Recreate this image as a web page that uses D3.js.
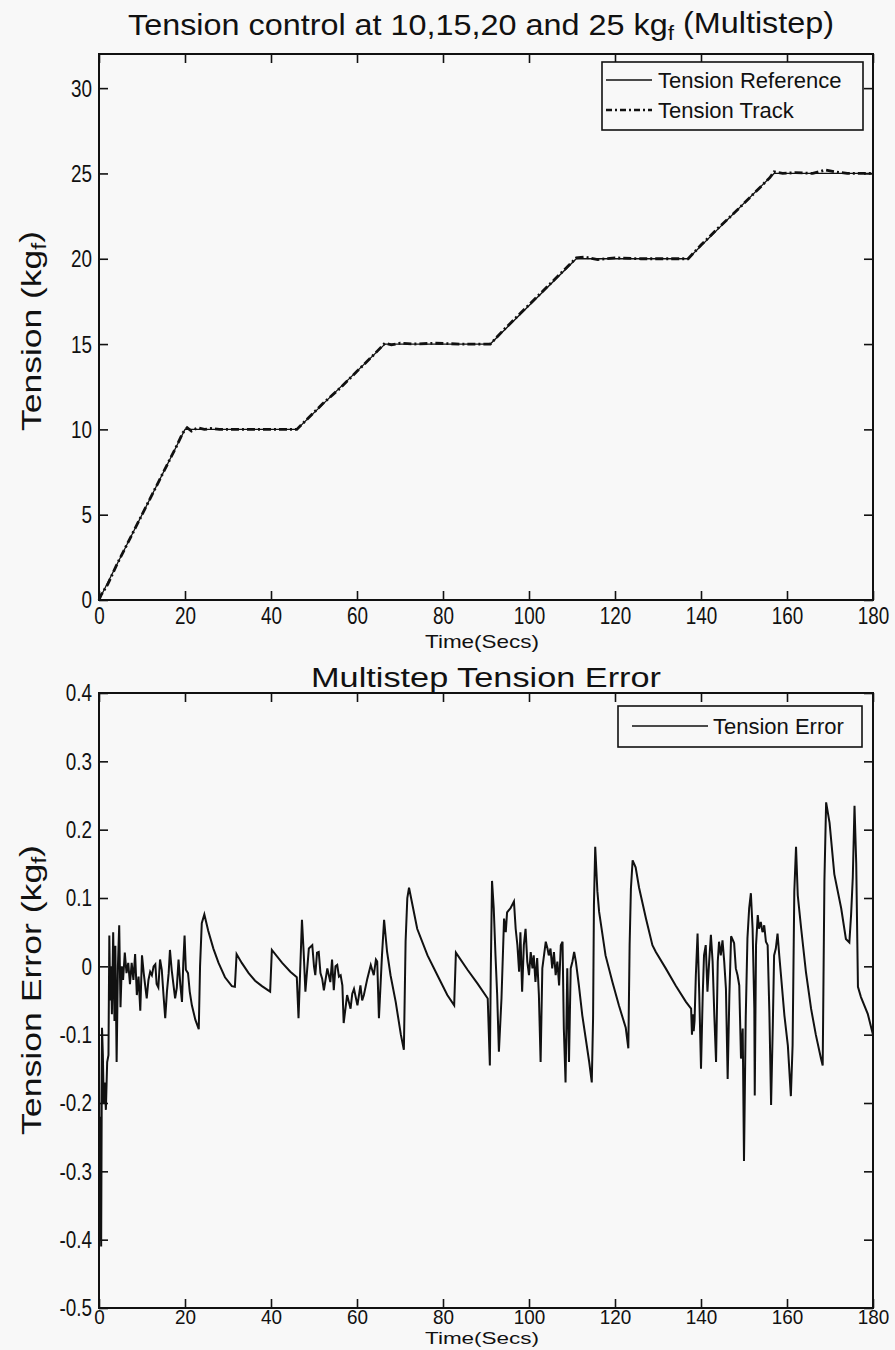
<!DOCTYPE html>
<html>
<head>
<meta charset="utf-8">
<script src="https://cdn.jsdelivr.net/npm/d3@7"></script>
<style>
  html, body { margin: 0; padding: 0; background: #f8f8f8; }
  svg { display: block; }
  .tick text { font-family: "Liberation Sans", Arial, sans-serif; font-size: 21px; fill: #111; }
  .tick line { stroke: #111; }
</style>
</head>
<body>
<div id="chart"></div>
<script>
// ---- top panel: tension reference and tracked tension ----
const refTime = [0, 20, 46, 66.5, 91, 111, 137, 157, 180]
const refTension = [0, 10, 10, 15, 15, 20, 20, 25, 25]

const trackTime = [0, 0.5, 2, 4, 6, 8, 10, 12, 14, 16, 18, 19.5, 20.5, 21.5, 23, 24.5, 26, 28, 32, 38, 44, 46,
  48, 52, 56, 60, 64, 66.5, 68, 70, 73, 78, 84, 90, 91,
  94, 98, 102, 106, 110, 111, 113, 116, 120, 126, 132, 137,
  140, 144, 148, 152, 156, 157, 159, 162, 166, 169, 171, 174, 178, 180]
const trackTension = [0, 0.3, 0.9, 2.0, 3.0, 4.0, 5.0, 6.0, 7.0, 8.0, 9.0, 9.8, 10.1, 9.9, 10.1, 10.0, 10.05, 10.0, 10.0, 10.0, 10.0, 10.0,
  10.5, 11.5, 12.4, 13.4, 14.4, 15.05, 14.95, 15.05, 15.0, 15.05, 15.0, 15.0, 15.0,
  15.8, 16.8, 17.8, 18.8, 19.8, 20.05, 20.1, 19.95, 20.05, 20.0, 20.0, 20.0,
  20.8, 21.8, 22.75, 23.75, 24.75, 25.1, 25.0, 25.05, 25.0, 25.2, 25.1, 25.0, 25.0, 25.0]

// ---- bottom panel: tension error ----
const errTime = [0, 0.2, 0.35, 0.5, 0.7, 0.9, 1.1, 1.3, 1.6, 1.9, 2.2, 2.4, 2.6, 2.8, 3.0, 3.3, 3.6, 3.8, 4.1, 4.4,
  4.7, 5.0, 5.3, 5.6, 6.0, 6.4, 6.8, 7.2, 7.6, 8.0, 8.4, 8.8, 9.2, 9.6, 10.0, 10.4, 10.7, 11.1, 11.5, 11.9,
  12.3, 12.7, 13.1, 13.4, 13.8, 14.2, 14.6, 15.0, 15.4, 15.8, 16.2, 16.5, 16.9, 17.3, 17.7, 18.1, 18.5, 18.9, 19.3, 19.6,
  19.9, 20.2, 20.7, 21.1, 21.6, 22.4, 23.2, 23.5, 23.9, 24.5, 25.4, 26.6, 27.8, 29.3, 30.9, 31.6, 32.0, 33.2, 34.8, 36.3,
  37.9, 39.8, 40.2, 42.6, 44.5, 46.0, 46.4, 47.2, 47.6, 48.0, 48.8, 49.6, 50.0, 50.3, 50.7, 51.1, 51.5, 51.9, 52.3, 53.1,
  53.8, 54.2, 54.6, 55.0, 55.4, 55.8, 56.2, 56.6, 56.9, 57.7, 58.5, 58.9, 59.3, 60.1, 60.8, 61.2, 61.6, 62.4, 63.2, 63.9,
  64.4, 64.7, 65.1, 65.8, 66.3, 67.0, 67.8, 69.0, 70.2, 70.9, 71.3, 71.7, 72.1, 74.0, 76.4, 78.7, 81.0, 82.6, 83.0, 85.7,
  88.0, 90.4, 90.9, 91.1, 91.4, 91.8, 92.2, 92.6, 93.0, 93.6, 94.2, 94.6, 94.9, 95.7, 96.5, 96.9, 97.3, 97.7, 98.0, 98.4,
  98.8, 99.2, 99.6, 100.0, 100.4, 100.8, 101.1, 101.5, 101.9, 102.3, 102.7, 103.1, 103.9, 104.3, 104.6, 105.0, 105.4, 105.8, 106.2, 106.6,
  107.0, 107.4, 107.8, 108.1, 108.5, 108.9, 109.3, 109.7, 110.1, 110.5, 110.9, 111.6, 112.4, 113.2, 114.0, 114.6, 114.9, 115.1, 115.4, 115.9,
  116.3, 117.8, 119.4, 120.9, 122.5, 123.1, 123.4, 123.7, 124.1, 124.8, 125.6, 127.2, 128.7, 129.5, 131.8, 134.1, 136.5, 137.7, 137.9, 138.1,
  138.3, 138.5, 138.8, 139.2, 139.6, 140.0, 140.4, 140.7, 141.1, 141.5, 141.9, 142.3, 142.7, 143.1, 143.5, 143.9, 144.2, 144.6, 145.0, 145.4,
  145.8, 146.2, 146.6, 147.0, 147.7, 148.1, 148.5, 148.9, 149.3, 149.7, 150.0, 150.4, 150.8, 151.2, 151.6, 152.0, 152.4, 152.5, 152.8, 153.2,
  153.5, 153.9, 154.3, 154.7, 155.1, 155.5, 155.9, 156.3, 156.7, 157.0, 157.4, 157.8, 158.2, 158.6, 159.4, 160.2, 160.9, 161.3, 161.7, 162.1,
  162.5, 163.3, 164.4, 165.6, 166.7, 167.9, 168.3, 168.7, 169.1, 169.9, 171.0, 172.6, 173.7, 174.5, 174.9, 175.3, 175.7, 176.1, 176.5, 177.2,
  178.8, 180.0]
const errValue = [-0.10, -0.40, -0.22, -0.41, -0.09, -0.13, -0.20, -0.17, -0.21, -0.14, -0.13, 0.045, -0.05, 0.0, -0.07, 0.05, -0.08, 0.03, -0.14, 0.0,
  0.06, -0.06, 0.0, -0.02, 0.02, -0.01, 0.005, -0.026, 0.005, -0.02, 0.018, -0.042, -0.015, -0.065, 0.016, -0.01, -0.026, -0.047, -0.02, -0.008,
  -0.013, 0.0, 0.003, -0.026, -0.031, 0.01, -0.005, -0.042, -0.076, -0.037, -0.01, 0.024, -0.005, -0.026, -0.047, -0.031, 0.01, -0.026, -0.052, 0.005,
  0.045, -0.005, -0.01, -0.037, -0.057, -0.078, -0.092, 0.0, 0.063, 0.076, 0.052, 0.026, 0.005, -0.016, -0.029, -0.03, 0.018, 0.005, -0.01, -0.021,
  -0.029, -0.037, 0.024, 0.005, -0.008, -0.016, -0.076, 0.068, 0.02, -0.037, 0.026, 0.031, 0.0, -0.013, 0.02, 0.021, -0.01, -0.018, -0.035, -0.003,
  -0.023, 0.01, -0.035, 0.0, 0.002, -0.015, -0.013, -0.028, -0.083, -0.042, -0.062, -0.04, -0.033, -0.057, -0.028, -0.05, -0.042, -0.018, 0.002, -0.013,
  0.01, 0.007, -0.076, 0.015, 0.068, 0.021, -0.013, -0.052, -0.10, -0.122, 0.036, 0.10, 0.115, 0.055, 0.016, -0.013, -0.042, -0.057, 0.02, -0.005,
  -0.025, -0.047, -0.145, -0.013, 0.125, 0.085, 0.017, -0.042, -0.125, -0.047, 0.07, 0.05, 0.079, 0.085, 0.095, 0.055, 0.031, -0.008, 0.05, -0.037,
  0.031, 0.055, 0.007, -0.013, 0.021, -0.003, 0.016, -0.023, 0.012, -0.042, -0.14, -0.003, 0.036, 0.026, 0.016, 0.026, -0.003, 0.021, -0.013, 0.007,
  -0.028, 0.031, 0.036, -0.091, -0.17, -0.003, -0.14, -0.003, 0.007, 0.021, 0.007, -0.028, -0.072, -0.106, -0.14, -0.17, -0.076, 0.089, 0.175, 0.11,
  0.08, 0.016, -0.023, -0.057, -0.09, -0.12, 0.031, 0.114, 0.155, 0.145, 0.115, 0.07, 0.031, 0.021, -0.003, -0.028, -0.052, -0.062, -0.10, -0.07,
  -0.095, -0.08, -0.013, 0.048, -0.042, -0.15, -0.042, 0.016, 0.031, -0.037, 0.007, 0.046, 0.007, -0.072, -0.14, 0.007, 0.036, 0.016, 0.038, 0.007,
  -0.033, -0.165, -0.042, 0.044, 0.034, -0.003, -0.013, -0.028, -0.135, -0.091, -0.285, -0.076, 0.041, 0.085, 0.107, 0.055, -0.062, -0.189, 0.031, 0.075,
  0.055, 0.065, 0.05, 0.06, 0.036, 0.031, -0.067, -0.203, -0.086, 0.016, 0.026, 0.048, 0.016, -0.013, -0.072, -0.116, -0.19, -0.116, 0.11, 0.175,
  0.104, 0.055, -0.008, -0.062, -0.10, -0.135, -0.145, 0.124, 0.24, 0.21, 0.135, 0.085, 0.04, 0.035, 0.075, 0.13, 0.235, 0.15, -0.03, -0.045,
  -0.07, -0.10]

const timeTicks = [0, 20, 40, 60, 80, 100, 120, 140, 160, 180]
const tensionTicks = [0, 5, 10, 15, 20, 25, 30]
const errorTicks = [-0.5, -0.4, -0.3, -0.2, -0.1, 0, 0.1, 0.2, 0.3, 0.4]

const width = 895
const height = 1350
const left = 99
const right = 873
const sans = '"Liberation Sans", Arial, sans-serif'

const svg = d3.select("#chart").append("svg")
  .attr("width", width)
  .attr("height", height)
  .style("background", "#f8f8f8")

const x = d3.scaleLinear().domain([0, 180]).range([left, right])

// the scanned figure has tall, narrow digits: squeeze each tick label
function squeeze(axisG, sy) {
  axisG.selectAll(".tick text").each(function () {
    const t = d3.select(this)
    const tx = +t.attr("x") || 0
    const ty = +t.attr("y") || 0
    t.attr("x", 0).attr("y", 0)
      .attr("transform", `translate(${tx},${ty}) scale(0.9,${sy})`)
  })
}

function panel(top, bottom, yDomain, yTicks, yFormat, xPad, xStretch) {
  const y = d3.scaleLinear().domain(yDomain).range([bottom, top])
  const g = svg.append("g")

  g.append("g")
    .attr("transform", `translate(0,${bottom})`)
    .call(d3.axisBottom(x).tickValues(timeTicks).tickSize(-9).tickPadding(xPad).tickFormat(d3.format("d")))
    .call(squeeze, xStretch)
  g.append("g")
    .attr("transform", `translate(0,${top})`)
    .call(d3.axisTop(x).tickValues(timeTicks).tickSize(-9).tickFormat(""))
  g.append("g")
    .attr("transform", `translate(${left},0)`)
    .call(d3.axisLeft(y).tickValues(yTicks).tickSize(-9).tickPadding(7).tickFormat(yFormat))
    .call(squeeze, 1.18)
  g.append("g")
    .attr("transform", `translate(${right},0)`)
    .call(d3.axisRight(y).tickValues(yTicks).tickSize(-9).tickFormat(""))

  g.selectAll(".domain").remove()
  g.selectAll(".tick line").attr("stroke-width", 1.6)

  g.append("rect")
    .attr("x", left).attr("y", top)
    .attr("width", right - left).attr("height", bottom - top)
    .attr("fill", "none").attr("stroke", "#111").attr("stroke-width", 2)

  return { g, y }
}

function xLabel(yPos, size) {
  svg.append("text")
    .attr("x", 482).attr("y", yPos)
    .attr("text-anchor", "middle")
    .attr("textLength", 114).attr("lengthAdjust", "spacingAndGlyphs")
    .style("font-family", sans).style("font-size", size + "px").style("fill", "#111")
    .text("Time(Secs)")
}

function subLabel(sel, before, after) {
  sel.append("tspan").text(before)
  sel.append("tspan").attr("font-size", "70%").attr("dy", "0.25em").text("f")
  sel.append("tspan").attr("dy", "-0.25em").text(after)
}

// ---- top panel ----
const topPanel = panel(54, 600, [0, 32], tensionTicks, d3.format("d"), 6, 1.18)
const yT = topPanel.y

topPanel.g.append("path")
  .datum(refTime.map((t, i) => [t, refTension[i]]))
  .attr("fill", "none").attr("stroke", "#111").attr("stroke-width", 1.3)
  .attr("d", d3.line().x(d => x(d[0])).y(d => yT(d[1])))

topPanel.g.append("path")
  .datum(trackTime.map((t, i) => [t, trackTension[i]]))
  .attr("fill", "none").attr("stroke", "#111").attr("stroke-width", 2.8)
  .attr("stroke-dasharray", "8,3,2,3")
  .attr("d", d3.line().x(d => x(d[0])).y(d => yT(d[1])))

const title1 = svg.append("text")
  .attr("x", 481).attr("y", 35)
  .attr("text-anchor", "middle")
  .attr("textLength", 706).attr("lengthAdjust", "spacingAndGlyphs")
  .style("font-family", sans).style("font-size", "30px").style("fill", "#111")
subLabel(title1, "Tension control at 10,15,20 and 25 kg", " (Multistep)")

const ylab1 = svg.append("text")
  .attr("transform", "translate(41,331) rotate(-90)")
  .attr("text-anchor", "middle")
  .attr("textLength", 200).attr("lengthAdjust", "spacingAndGlyphs")
  .style("font-family", sans).style("font-size", "28px").style("fill", "#111")
subLabel(ylab1, "Tension (kg", ")")

xLabel(648, 19)

// legend (top)
const leg1 = svg.append("g")
leg1.append("rect").attr("x", 602).attr("y", 62).attr("width", 261).attr("height", 68)
  .attr("fill", "#f8f8f8").attr("stroke", "#111").attr("stroke-width", 1.6)
leg1.append("line").attr("x1", 606).attr("x2", 652).attr("y1", 80).attr("y2", 80)
  .attr("stroke", "#111").attr("stroke-width", 1.3)
leg1.append("line").attr("x1", 606).attr("x2", 652).attr("y1", 110).attr("y2", 110)
  .attr("stroke", "#111").attr("stroke-width", 2.6).attr("stroke-dasharray", "6,3,2,3")
leg1.selectAll("text.leg")
  .data(["Tension Reference", "Tension Track"])
  .join("text")
  .attr("x", 658).attr("y", (d, i) => 88 + i * 30)
  .style("font-family", sans).style("font-size", "22px").style("fill", "#111")
  .text(d => d)

// ---- bottom panel ----
const botPanel = panel(693, 1308, [-0.5, 0.4], errorTicks, d => d === 0 ? "0" : d.toFixed(1), 1, 1.0)
const yB = botPanel.y

botPanel.g.append("path")
  .datum(errTime.map((t, i) => [t, errValue[i]]))
  .attr("fill", "none").attr("stroke", "#111").attr("stroke-width", 2)
  .attr("stroke-linejoin", "miter")
  .attr("d", d3.line().x(d => x(d[0])).y(d => yB(d[1])))

svg.append("text")
  .attr("x", 486).attr("y", 687)
  .attr("text-anchor", "middle")
  .attr("textLength", 350).attr("lengthAdjust", "spacingAndGlyphs")
  .style("font-family", sans).style("font-size", "27px").style("fill", "#111")
  .text("Multistep Tension Error")

const ylab2 = svg.append("text")
  .attr("transform", "translate(41,990) rotate(-90)")
  .attr("text-anchor", "middle")
  .attr("textLength", 290).attr("lengthAdjust", "spacingAndGlyphs")
  .style("font-family", sans).style("font-size", "28px").style("fill", "#111")
subLabel(ylab2, "Tension Error (kg", ")")

xLabel(1344, 16)

// legend (bottom)
const leg2 = svg.append("g")
leg2.append("rect").attr("x", 618).attr("y", 706).attr("width", 244).attr("height", 41)
  .attr("fill", "#f8f8f8").attr("stroke", "#111").attr("stroke-width", 1.6)
leg2.append("line").attr("x1", 632).attr("x2", 708).attr("y1", 726).attr("y2", 726)
  .attr("stroke", "#111").attr("stroke-width", 1.3)
leg2.append("text")
  .attr("x", 713).attr("y", 734)
  .style("font-family", sans).style("font-size", "22px").style("fill", "#111")
  .text("Tension Error")
</script>
</body>
</html>
